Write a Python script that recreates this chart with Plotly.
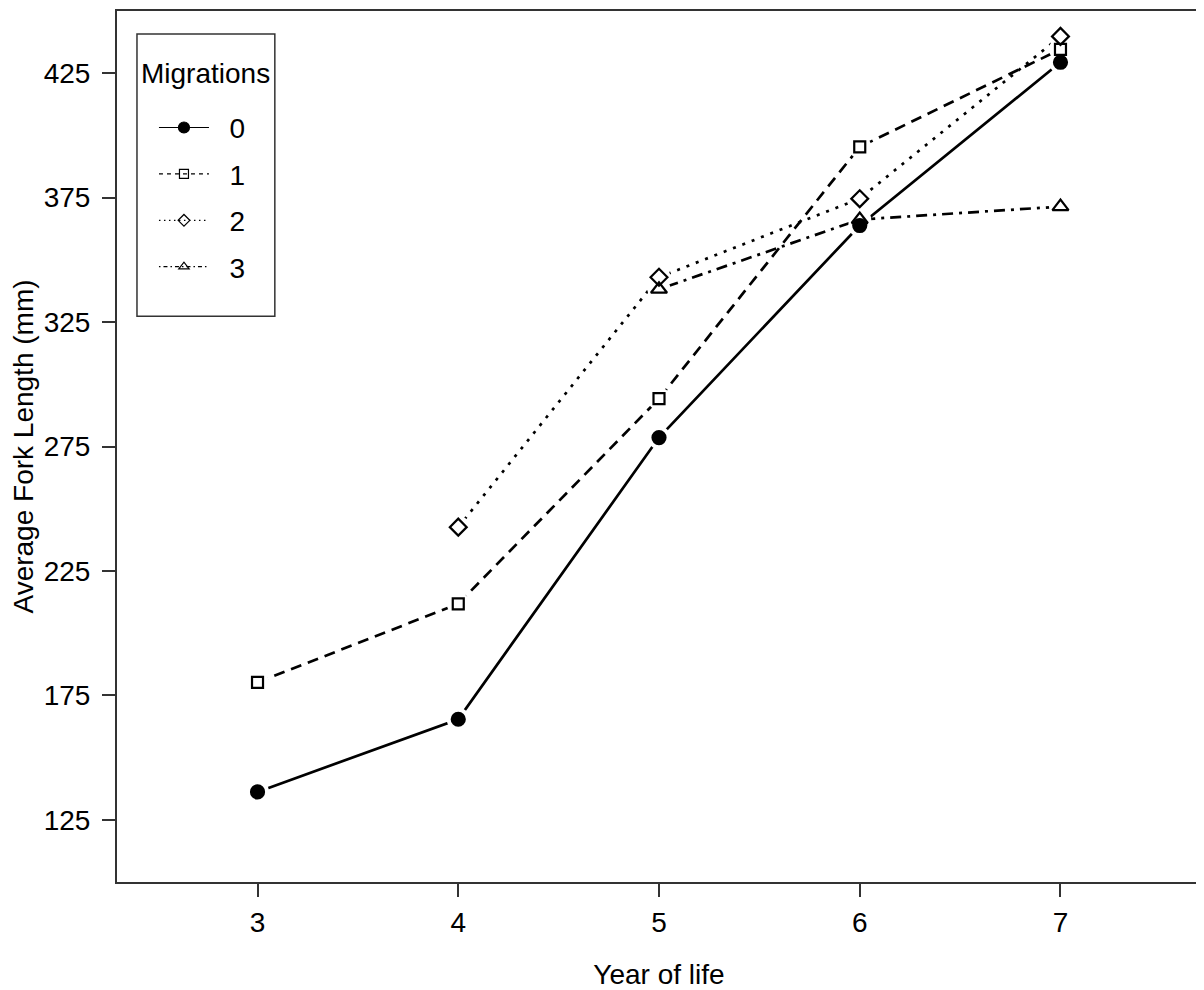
import plotly.graph_objects as go

years = [3, 4, 5, 6, 7]
migrations = ["0", "1", "2", "3"]
fl_0 = [136.2, 165.4, 278.6, 363.8, 429.4]
fl_1 = [180.2, 211.8, 294.2, 395.4, 434.6]
fl_2 = [None, 242.6, 343.0, 374.6, 439.8]
fl_3 = [None, None, 338.2, 366.2, 371.4]

series = [fl_0, fl_1, fl_2, fl_3]
dashes = ["solid", "11px,7px", "3px,7px", "3px,6px,11px,6px"]
leg_dashes = ["solid", "4px,4px", "1.5px,3.5px", "1.5px,3px,4px,3px"]
symbols = ["circle", "square-open", "diamond-open", "triangle-up-open"]
msizes = [13, 11, 13, 14]
FONT = "Liberation Sans, Arial, sans-serif"
FS = 28

fig = go.Figure()
for name, ys, dash in zip(migrations, series, dashes):
    fig.add_trace(go.Scatter(x=years, y=ys, mode="lines", showlegend=False,
                             line=dict(color="black", width=2.7, dash=dash),
                             hoverinfo="skip"))
for name, ys in zip(migrations, series):
    fig.add_trace(go.Scatter(x=years, y=ys, mode="markers", showlegend=False,
                             marker=dict(symbol="circle", size=23, color="white",
                                         line=dict(width=0)),
                             hoverinfo="skip"))
for name, ys, sym, ms in zip(migrations, series, symbols, msizes):
    fig.add_trace(go.Scatter(x=years, y=ys, mode="markers", showlegend=False,
                             marker=dict(symbol=sym, size=ms, color="black",
                                         line=dict(color="black", width=2.2)),
                             name=name))
for name, sym, ld in zip(migrations, symbols, leg_dashes):
    fig.add_trace(go.Scatter(x=[None], y=[None], mode="lines+markers",
                             name="\u00a0\u00a0" + name,
                             legendgroup=name,
                             line=dict(color="black", width=1.2, dash=ld),
                             marker=dict(symbol=sym, size=9 if sym != "circle" else 11,
                                         color="black",
                                         line=dict(color="black", width=1.2))))

axis_common = dict(showline=True, linecolor="#333333", linewidth=2, mirror=True,
                   ticks="outside", ticklen=13, tickwidth=1.5, tickcolor="#333333",
                   showgrid=False, zeroline=False,
                   tickfont=dict(family=FONT, size=FS, color="black"))

fig.update_layout(
    width=1196, height=982,
    margin=dict(l=109, r=2, t=1, b=108),
    plot_bgcolor="white", paper_bgcolor="white",
    font=dict(family=FONT, size=FS, color="black"),
    xaxis=dict(range=[2.3, 7.7], tickvals=years, ticktext=[str(y) for y in years],
               title=dict(text="Year of life", font=dict(family=FONT, size=FS),
                          standoff=28),
               ticklabelstandoff=1, **axis_common),
    yaxis=dict(range=[100, 450], tickvals=[125, 175, 225, 275, 325, 375, 425],
               title=dict(text="Average Fork Length (mm)", font=dict(family=FONT, size=FS),
                          standoff=5),
               ticklabelstandoff=6, **axis_common),
    legend=dict(x=0.0341, y=0.8946, xanchor="left", yanchor="top",
                borderwidth=0, bgcolor="rgba(0,0,0,0)",
                font=dict(family=FONT, size=FS),
                traceorder="grouped", tracegroupgap=7, itemwidth=50),
    shapes=[dict(type="rect", xref="paper", yref="paper",
                 x0=0.01843, x1=0.1456, y0=0.6495, y1=0.97365,
                 line=dict(color="#333333", width=1.5), fillcolor="white",
                 layer="above")],
    annotations=[dict(text="Migrations", xref="paper", yref="paper",
                      x=0.0820, y=0.9278, xanchor="center", yanchor="middle",
                      showarrow=False, font=dict(family=FONT, size=FS))],
)

fig.write_html("out.html")
